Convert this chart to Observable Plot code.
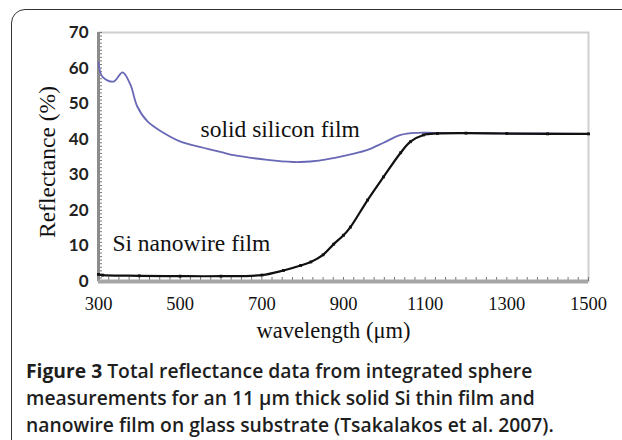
<!DOCTYPE html>
<html>
<head>
<meta charset="utf-8">
<script src="https://cdn.jsdelivr.net/npm/d3@7"></script>
<script src="https://cdn.jsdelivr.net/npm/@observablehq/plot@0.6"></script>
<style>
  html, body { margin: 0; padding: 0; background: #fff; }
  body { width: 622px; height: 440px; overflow: hidden; position: relative; }
  #border { position: absolute; left: 11px; top: 9px; width: 700px; height: 520px;
            border: 1.5px solid #333; border-radius: 14px; box-sizing: border-box; }
  #chart { position: absolute; left: 0; top: 0; }
  #caption { position: absolute; left: 26px; top: 357px; white-space: nowrap;
             font-family: "Open Sans", sans-serif; font-size: 19.3px; font-weight: 600; line-height: 27px; color: #1e1e1e; }
  #caption b { font-weight: 700; }
</style>
</head>
<body>
<div id="border"></div>
<div id="chart"></div>
<div id="caption"><b>Figure 3</b> Total reflectance data from integrated sphere<br>measurements for an 11 μm thick solid Si thin film and<br>nanowire film on glass substrate (Tsakalakos et al. 2007).</div>
<script>
// Solid silicon film (blue curve)
const solidWavelength = [300, 310, 337, 359, 378, 395, 420, 459, 501, 557, 606, 631, 714, 777, 795, 840, 876, 920, 959, 998, 1040, 1081, 1120, 1200, 1300, 1400, 1500];
const solidReflectance = [61.5, 57.5, 56.2, 58.8, 55.4, 49.2, 45.0, 41.8, 39.3, 37.6, 36.2, 35.5, 34.2, 33.6, 33.6, 34.0, 34.7, 35.8, 37.0, 39.0, 41.2, 41.8, 41.8, 41.7, 41.6, 41.6, 41.5];

// Si nanowire film (black curve)
const nanoWavelength = [300, 310, 400, 500, 600, 700, 753, 795, 820, 850, 876, 900, 917, 959, 998, 1040, 1064, 1096, 1130, 1200, 1300, 1400, 1500];
const nanoReflectance = [2.0, 1.8, 1.6, 1.5, 1.5, 1.8, 3.1, 4.5, 5.5, 7.5, 10.5, 13.0, 15.3, 22.9, 29.4, 36.2, 39.3, 41.2, 41.6, 41.7, 41.6, 41.5, 41.5];

// Axis ticks
const xTicks = [300, 500, 700, 900, 1100, 1300, 1500];
const yTicks = [0, 10, 20, 30, 40, 50, 60, 70];
const xMinorTicks = d3.range(300, 1501, 25);
const yMinorTicks = d3.range(0, 71, 1);

// Annotations
const labelText = ["solid silicon film", "Si nanowire film"];
const labelX = [550, 334];
const labelY = [42.6, 10.7];

// Axis titles
const xTitle = "wavelength (μm)";
const yTitle = "Reflectance (%)";

const solid = solidWavelength.map((w, i) => ({w, r: solidReflectance[i]}));
const nano = nanoWavelength.map((w, i) => ({w, r: nanoReflectance[i]}));
const labels = labelText.map((t, i) => ({t, x: labelX[i], y: labelY[i]}));

const serif = "'Liberation Serif', 'DejaVu Serif', serif";

const chart = Plot.plot({
  width: 622,
  height: 345,
  marginLeft: 98,
  marginRight: 34,
  marginTop: 32,
  marginBottom: 64,
  style: {background: "transparent", overflow: "visible"},
  x: {domain: [300, 1500]},
  y: {domain: [0, 70]},
  marks: [
    Plot.frame({stroke: "#cfcfcf", strokeWidth: 2}),
    // minor ticks (inward)
    Plot.axisY({ticks: yMinorTicks, tickSize: -4, text: null, label: null, stroke: "#777", strokeWidth: 1}),
    Plot.axisX({ticks: xMinorTicks, tickSize: -4, text: null, label: null, stroke: "#777", strokeWidth: 1}),
    // axis lines
    Plot.ruleX([300], {stroke: "#8c8c8c", strokeWidth: 3}),
    Plot.ruleY([0], {stroke: "#a6a6a6", strokeWidth: 4}),
    // tick labels
    Plot.axisY({ticks: yTicks, tickSize: 0, tickPadding: 10, label: null,
      fontSize: 17, fontWeight: "bold", fontFamily: "Lato, sans-serif", fill: "#222"}),
    Plot.axisX({ticks: xTicks, tickFormat: d => String(d), tickSize: 0, tickPadding: 15, label: null,
      fontSize: 18.5, fontFamily: serif, fill: "#111"}),
    // curves
    Plot.line(solid, {x: "w", y: "r", stroke: "#6868b6", strokeWidth: 1.8, curve: "catmull-rom"}),
    Plot.line(nano, {x: "w", y: "r", stroke: "#111", strokeWidth: 2.2, curve: "catmull-rom"}),
    Plot.dot(nano, {x: "w", y: "r", r: 1.6, fill: "#111", symbol: "square"}),
    // annotations
    Plot.text(labels, {x: "x", y: "y", text: "t", textAnchor: "start", fontSize: 23.5, fontFamily: serif, fill: "#111"}),
    // axis titles
    Plot.text([xTitle], {frameAnchor: "bottom", textAnchor: "middle", dx: -10, dy: 56, text: d => d, fontSize: 22.5, fontFamily: serif, fill: "#111"}),
    Plot.text([yTitle], {frameAnchor: "left", textAnchor: "middle", dx: -51, dy: 5, rotate: -90, text: d => d, fontSize: 23.5, fontFamily: serif, fill: "#111"})
  ]
});
document.getElementById("chart").appendChild(chart);
</script>
</body>
</html>
